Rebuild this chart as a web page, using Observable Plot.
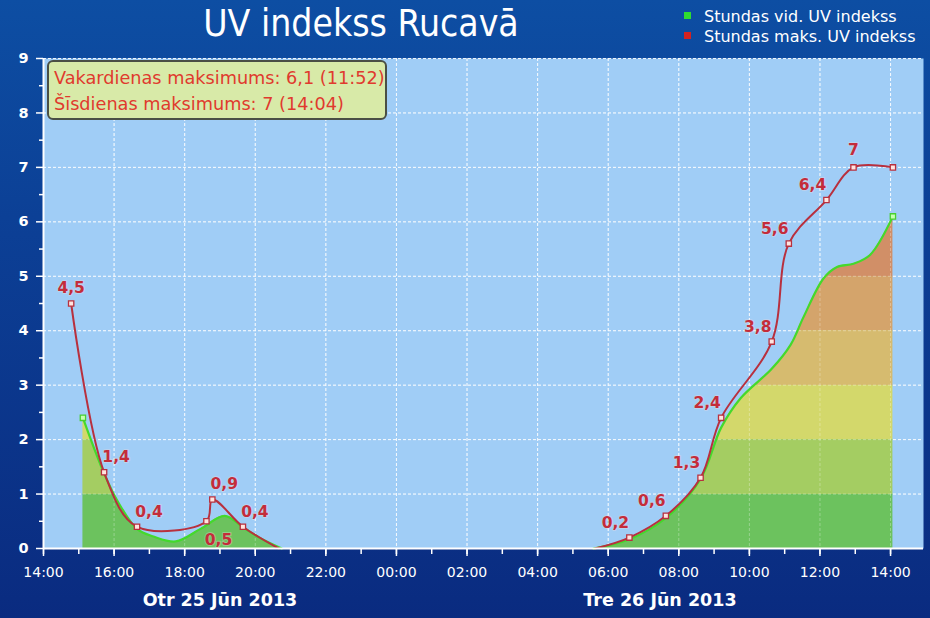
<!DOCTYPE html>
<html>
<head>
<meta charset="utf-8">
<script src="https://cdn.jsdelivr.net/npm/d3@7"></script>
<script src="https://cdn.jsdelivr.net/npm/@observablehq/plot@0.6"></script>
<style>
  html, body { margin: 0; padding: 0; background: #0b3585; }
  #wrap { position: relative; width: 930px; height: 618px; overflow: hidden;
    background: linear-gradient(180deg, #0d4ea3 0%, #0c4096 35%, #0a2b80 100%);
    font-family: "DejaVu Sans", sans-serif; }
  #header { position: relative; height: 50px; }
  #title { position: absolute; left: 0; top: 3px; width: 722px; text-align: center;
    color: #fff; font-size: 37px; font-stretch: condensed; font-family: "DejaVu Sans Condensed", "DejaVu Sans", sans-serif; line-height: 42px; }
  #legend { position: absolute; left: 684px; top: 7px; color: #fff; font-size: 16px; line-height: 20px; }
  #legend .sw { display: inline-block; width: 7px; height: 7px; margin-right: 13px; vertical-align: 3px; }
  #info { position: absolute; left: 47px; top: 60px; width: 340px; height: 60px;
    background: #d8eaa8; border: 2px solid #4a4f45; border-radius: 6px;
    color: #e03a2e; font-size: 17.7px; line-height: 26px; padding: 3px 0 0 5px; box-sizing: border-box; }
  #chart svg { display: block; }
</style>
</head>
<body>
<div id="wrap">
  <div id="header">
    <div id="title"></div>
    <div id="legend"></div>
  </div>
  <div id="chart"></div>
  <div id="info"></div>
</div>
<script>
// ---------- data ----------
const titleText = "UV indekss Rucavā";
const legendLabels = ["Stundas vid. UV indekss", "Stundas maks. UV indekss"];
const legendColors = ["#2fdc2f", "#d42222"];
const infoLines = ["Vakardienas maksimums: 6,1 (11:52)", "Šīsdienas maksimums: 7 (14:04)"];

// hourly maximum UV index
const maxTimes = [
  "2013-06-25 14:47", "2013-06-25 15:43", "2013-06-25 16:39", "2013-06-25 18:37",
  "2013-06-25 18:47", "2013-06-25 19:39", "2013-06-25 20:40",
  "2013-06-26 05:38", "2013-06-26 06:36", "2013-06-26 07:38", "2013-06-26 08:37",
  "2013-06-26 09:12", "2013-06-26 10:38", "2013-06-26 11:07", "2013-06-26 12:11",
  "2013-06-26 12:57", "2013-06-26 14:04"
];
const maxValues = [4.5, 1.4, 0.4, 0.5, 0.9, 0.4, 0, 0, 0.2, 0.6, 1.3, 2.4, 3.8, 5.6, 6.4, 7, 7];

// hourly average UV index
const avgTimes = [
  "2013-06-25 15:07", "2013-06-25 15:43", "2013-06-25 16:07", "2013-06-25 16:39",
  "2013-06-25 17:07", "2013-06-25 17:45", "2013-06-25 18:27", "2013-06-25 19:08",
  "2013-06-25 19:39", "2013-06-25 20:07", "2013-06-25 20:45",
  "2013-06-26 05:35", "2013-06-26 06:36", "2013-06-26 07:38", "2013-06-26 08:37",
  "2013-06-26 09:12", "2013-06-26 09:45", "2013-06-26 10:38", "2013-06-26 11:10",
  "2013-06-26 11:32", "2013-06-26 12:06", "2013-06-26 12:29", "2013-06-26 12:57",
  "2013-06-26 13:25", "2013-06-26 14:04"
];
const avgValues = [2.4, 1.38, 0.85, 0.36, 0.22, 0.13, 0.36, 0.6, 0.39, 0.2, 0,
  0, 0.17, 0.56, 1.28, 2.22, 2.76, 3.3, 3.74, 4.25, 4.96, 5.17, 5.23, 5.39, 6.1];

const xDomain = ["2013-06-25 14:00", "2013-06-26 14:56"];
const yTicks = [0, 1, 2, 3, 4, 5, 6, 7, 8, 9];
const yMinorTicks = [0.5, 1.5, 2.5, 3.5, 4.5, 5.5, 6.5, 7.5, 8.5];
const dayLabels = ["Otr 25 Jūn 2013", "Tre 26 Jūn 2013"];
const dayLabelTimes = ["2013-06-25 19:00", "2013-06-26 07:28"];
// UV bands colours (0-1, 1-2, ..., 8-9)
const bandColors = ["#6cc25e", "#a4cd62", "#d3d86b", "#d6bb6f", "#d4a46b", "#d18f67", "#cf7c63", "#cf7c63", "#cf7c63"];

// ---------- build ----------
const parse = d3.timeParse("%Y-%m-%d %H:%M");
const maxData = maxTimes.map((t, i) => ({t: parse(t), v: maxValues[i]}));
const avgData = avgTimes.map((t, i) => ({t: parse(t), v: avgValues[i]}));
maxData.forEach(d => d.day = d.t.getDate());
avgData.forEach(d => d.day = d.t.getDate());
const x0 = parse(xDomain[0]), x1 = parse(xDomain[1]);
const majorX = d3.timeHour.every(2).range(x0, x1);
const minorX = d3.timeHour.every(1).range(x0, x1);
const fmtComma = v => String(v).replace(".", ",");

document.getElementById("title").textContent = titleText;
document.getElementById("legend").innerHTML = legendLabels.map((l, i) =>
  `<div><span class="sw" style="background:${legendColors[i]}"></span>${l}</div>`).join("");
document.getElementById("info").innerHTML = infoLines.map(l => `<div>${l}</div>`).join("");

// label placement groups
const labeled = maxData.filter((d, i) => d.v > 0 && i !== maxData.length - 1);
const firstDay = maxData[0].day;
function offset(d, i) {
  if (i === 0) return [0, -15];
  if (d.v === 7) return [0, -17];
  if (d.day === firstDay) return (d.v === 0.5) ? [12, 19] : [12, -15];
  return [-14, -15];
}
const groups = d3.groups(labeled.map((d, i) => ({...d, off: offset(d, i)})), d => d.off.join(","));
const labelMarks = groups.map(([k, rows]) => Plot.text(rows, {
  x: "t", y: "v", text: d => fmtComma(d.v), dx: rows[0].off[0], dy: rows[0].off[1],
  fill: "#c42c3a", fontSize: 15.5, fontWeight: 600, stroke: "#f4d9dc", strokeOpacity: 0.35, strokeWidth: 2
}));

const chart = Plot.plot({
  width: 930, height: 568,
  marginLeft: 43, marginRight: 7, marginTop: 8, marginBottom: 70,
  style: {color: "white", fontFamily: "DejaVu Sans, sans-serif", background: "transparent", overflow: "visible"},
  x: {type: "time", domain: [x0, x1], label: null},
  y: {domain: [0, 9], label: null},
  marks: [
    Plot.frame({fill: "#a0cdf6", stroke: "none"}),
    Plot.gridY(yTicks, {stroke: "white", strokeOpacity: 0.85, strokeDasharray: "3,2"}),
    Plot.gridX(majorX, {stroke: "white", strokeOpacity: 0.85, strokeDasharray: "3,2"}),
    Plot.areaY(avgData, {x: "t", y: "v", z: "day", curve: "catmull-rom", fill: "url(#uvGrad)"}),
    Plot.gridY(yTicks, {stroke: "white", strokeOpacity: 0.35, strokeDasharray: "3,2"}),
    Plot.gridX(majorX, {stroke: "white", strokeOpacity: 0.3, strokeDasharray: "3,2"}),
    Plot.line(avgData, {x: "t", y: "v", z: "day", curve: "catmull-rom", stroke: "#44d92c", strokeWidth: 2.2}),
    Plot.line(maxData, {x: "t", y: "v", z: "day", curve: "catmull-rom", stroke: "#b8303e", strokeWidth: 2}),
    Plot.dot(maxData.filter(d => d.v > 0), {x: "t", y: "v", symbol: "square", r: 3, fill: "#ffe4df", stroke: "#b8303e", strokeWidth: 1.3}),
    Plot.dot([avgData[0], avgData[avgData.length - 1]], {x: "t", y: "v", symbol: "square", r: 3, fill: "#c6ffb0", stroke: "#48d030", strokeWidth: 1.3}),
    ...labelMarks,
    Plot.ruleY([0], {stroke: "white", strokeWidth: 2}),
    Plot.ruleX([x0], {stroke: "white", strokeWidth: 2}),
    Plot.axisY(yTicks, {tickSize: 7, tickPadding: 8, fontSize: 14.5, fontWeight: 600, tickFormat: d => d, color: "white", label: null, strokeWidth: 1.5}),
    Plot.axisY(yMinorTicks, {tickSize: 4, tickFormat: () => "", color: "white", label: null, strokeWidth: 1.5}),
    Plot.axisX(majorX, {tickSize: 8, tickPadding: 11, fontSize: 14, tickFormat: d3.timeFormat("%H:%M"), color: "white", label: null, strokeWidth: 1.5}),
    Plot.axisX(minorX, {tickSize: 6, tickFormat: () => "", color: "white", label: null, strokeWidth: 1.5}),
    Plot.text(dayLabels, {x: (d, i) => parse(dayLabelTimes[i]), text: d => d, frameAnchor: "bottom", dy: 52,
      fill: "white", fontSize: 17.5, fontWeight: "bold", lineAnchor: "middle"})
  ]
});

// vertical banded gradient for the average area, positioned via the y scale
const ys = chart.scale("y");
const ns = "http://www.w3.org/2000/svg";
const defs = document.createElementNS(ns, "defs");
const grad = document.createElementNS(ns, "linearGradient");
grad.setAttribute("id", "uvGrad");
grad.setAttribute("gradientUnits", "userSpaceOnUse");
grad.setAttribute("x1", 0); grad.setAttribute("x2", 0);
grad.setAttribute("y1", ys.apply(0)); grad.setAttribute("y2", ys.apply(9));
bandColors.forEach((c, i) => {
  [i / 9, (i + 1) / 9].forEach(o => {
    const s = document.createElementNS(ns, "stop");
    s.setAttribute("offset", o);
    s.setAttribute("stop-color", c);
    grad.appendChild(s);
  });
});
defs.appendChild(grad);
chart.insertBefore(defs, chart.firstChild);
document.getElementById("chart").appendChild(chart);
</script>
</body>
</html>
